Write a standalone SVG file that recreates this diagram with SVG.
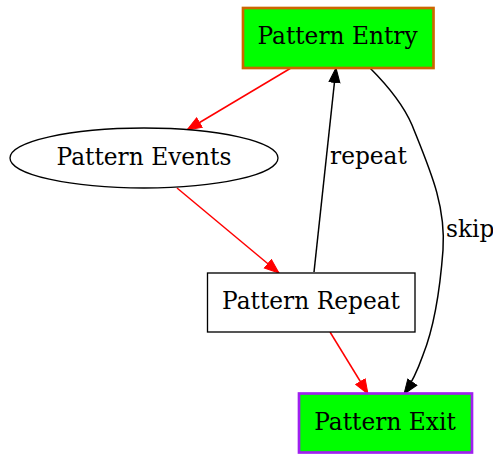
<svg xmlns="http://www.w3.org/2000/svg" width="493" height="456" viewBox="0 0 493 456">
<style>
text{font-family:"DejaVu Serif",serif;font-size:23.3px;fill:#000}
.n{text-anchor:middle}
.e{fill:none;stroke-width:1.5}
.r{stroke:#ff0000}
.b{stroke:#000}
</style>
<defs>
<marker id="ar" markerUnits="userSpaceOnUse" markerWidth="16" markerHeight="13" refX="15" refY="6" orient="auto" viewBox="0 0 16 12"><path d="M0.5,0.5 L15,6 L0.5,11.5 Z" fill="#ff0000" stroke="#ff0000"/></marker>
<marker id="ab" markerUnits="userSpaceOnUse" markerWidth="16" markerHeight="13" refX="15" refY="6" orient="auto" viewBox="0 0 16 12"><path d="M0.5,0.5 L15,6 L0.5,11.5 Z" fill="#000" stroke="#000"/></marker>
</defs>
<rect width="493" height="456" fill="#fff"/>
<g id="edges">
<path class="e r" d="M291,68 L187,130" marker-end="url(#ar)"/>
<path class="e r" d="M177,188 L279,273" marker-end="url(#ar)"/>
<path class="e b" d="M314,272 L336,68" marker-end="url(#ab)"/>
<text x="330" y="164">repeat</text>
<path class="e b" d="M370,68 C388,86 403,104 412,125 C430,170 446,205 443,250 C440,290 433,330 423,355 C417,372 411,384 404,394" marker-end="url(#ab)"/>
<text x="446" y="237">skip</text>
<path class="e r" d="M330,332 L368,394" marker-end="url(#ar)"/>
</g>
<g id="entry"><rect x="243" y="8" width="190.5" height="60" fill="#00ff00" stroke="#cc6600" stroke-width="2.67"/><text class="n" x="337.5" y="44">Pattern Entry</text></g>
<g id="events"><ellipse cx="144" cy="158" rx="134" ry="30" fill="#fff" stroke="#000" stroke-width="1.33"/><text class="n" x="144" y="165">Pattern Events</text></g>
<g id="repeat"><rect x="207.5" y="273" width="207.5" height="59" fill="#fff" stroke="#000" stroke-width="1.33"/><text class="n" x="311" y="309">Pattern Repeat</text></g>
<g id="exit"><rect x="299" y="393.5" width="173" height="59" fill="#00ff00" stroke="#a020f0" stroke-width="2.67"/><text class="n" x="385" y="430">Pattern Exit</text></g>
</svg>
